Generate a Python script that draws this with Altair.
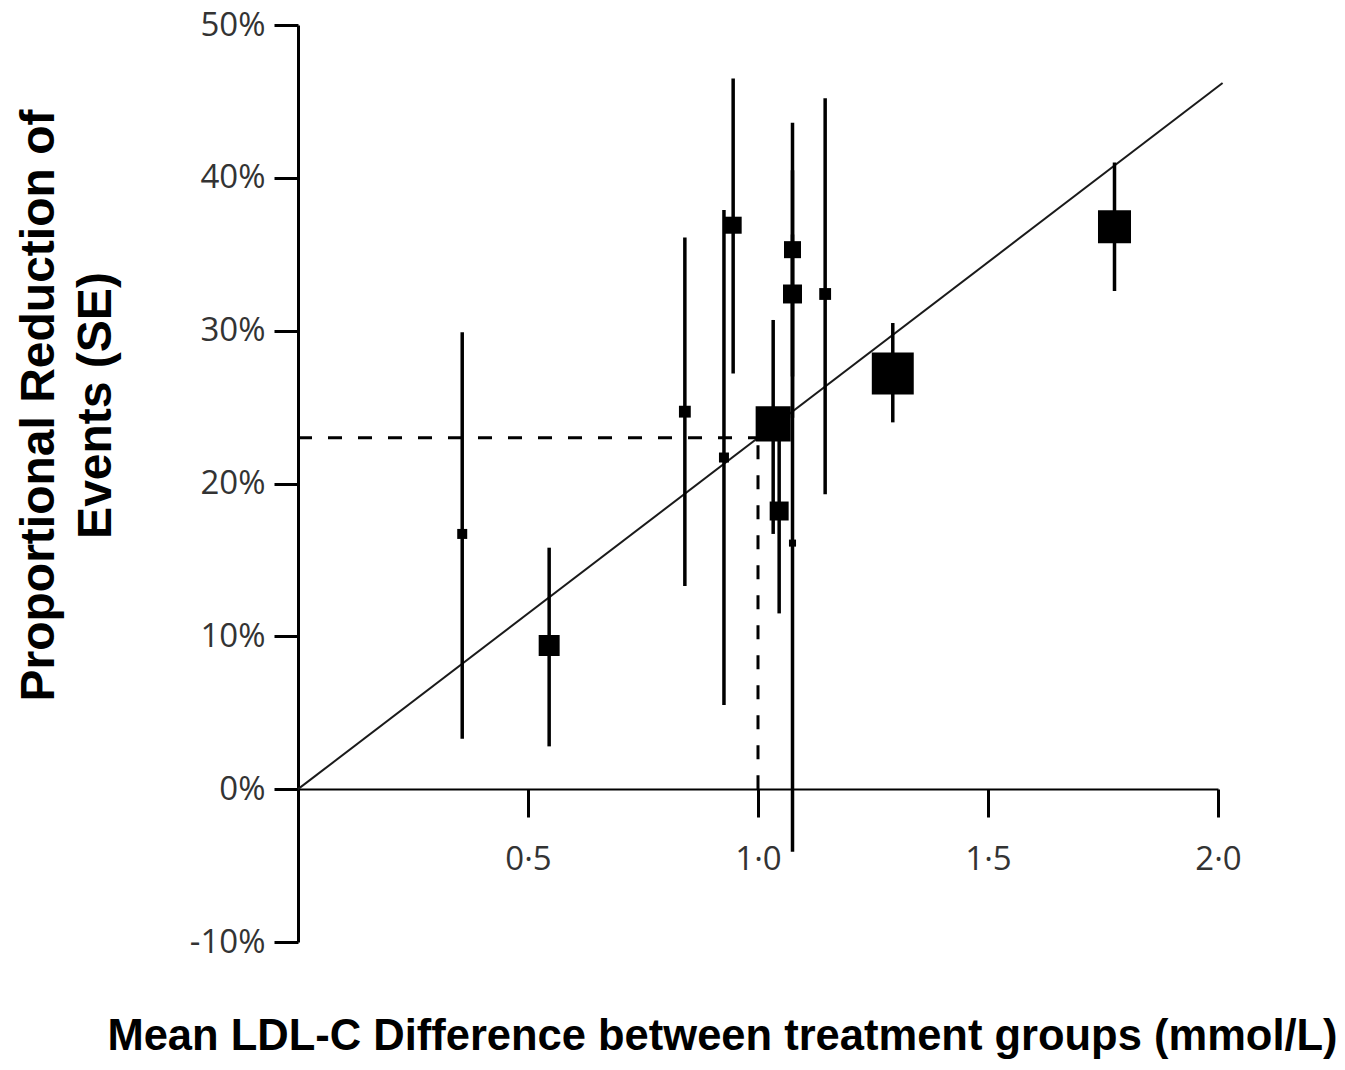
import altair as alt
import pandas as pd

# ---- data ----
ldl_diff = [0.357, 0.546, 0.841, 0.926, 0.946, 1.075, 1.075, 1.075, 1.033, 1.046, 1.146, 1.293, 1.775]
reduction = [16.7, 9.4, 24.7, 21.7, 36.9, 35.3, 32.4, 16.1, 23.9, 18.2, 32.4, 27.2, 36.8]
ci_upper = [29.9, 15.8, 36.1, 37.9, 46.5, 43.6, 40.5, 36.3, 30.7, 24.9, 45.2, 30.5, 41.0]
ci_lower = [3.3, 2.8, 13.3, 5.5, 27.2, 27.0, 24.3, -4.1, 16.7, 11.5, 19.3, 24.0, 32.6]
weight = [1.0, 4.4, 1.4, 1.0, 2.9, 2.9, 3.6, 0.5, 12.3, 3.6, 1.4, 17.6, 10.9]

fit_x = [0.0, 2.01]
fit_y = [0.0, 46.2]
ref_x = [1.0]
ref_y = [23.0]

x_ticks = [0.5, 1.0, 1.5, 2.0]
y_ticks = [-10, 0, 10, 20, 30, 40, 50]

pts = pd.DataFrame({"x": ldl_diff, "y": reduction, "hi": ci_upper, "lo": ci_lower, "w": weight})
fit = pd.DataFrame({"x": [fit_x[0]], "x2": [fit_x[1]], "y": [fit_y[0]], "y2": [fit_y[1]]})
ref_h = pd.DataFrame({"x": [0.0], "x2": ref_x, "y": ref_y})
ref_v = pd.DataFrame({"x": ref_x, "y": [0.0], "y2": ref_y})

xscale = alt.Scale(domain=[0, 2.0], nice=False, zero=False)
yscale = alt.Scale(domain=[-10, 50], nice=False, zero=False)

xaxis = alt.Axis(
    values=x_ticks,
    labelExpr="replace(format(datum.value, '.1f'), '.', '·')",
    offset=-153,
    grid=False,
    domainColor="black", domainWidth=2,
    tickColor="black", tickWidth=3, tickSize=28,
    labelFont="Open Sans", labelFontSize=33, labelColor="#333",
    labelPadding=26, labelFlush=False, labelOverlap=False,
    title="Mean LDL-C Difference between treatment groups (mmol/L)",
    titleFont="Liberation Sans", titleFontWeight="bold", titleFontSize=43.5,
    titleColor="black", titleX=424, titleY=260, titleAlign="center",
    titleBaseline="alphabetic",
)
yaxis = alt.Axis(
    values=y_ticks,
    labelExpr="datum.value + '%'",
    grid=False,
    domainColor="black", domainWidth=3,
    tickColor="black", tickWidth=3, tickSize=24,
    labelFont="Open Sans", labelFontSize=33, labelColor="#333",
    labelPadding=9, labelOverlap=False,
    title=["Proportional Reduction of", "Events (SE)"],
    titleFont="Liberation Sans", titleFontWeight="bold", titleFontSize=48,
    titleColor="black", titleAngle=270, titleX=-245, titleY=380,
    titleAlign="center", titleBaseline="alphabetic", titleLineHeight=57,
)


def X(field):
    return alt.X(f"{field}:Q", scale=xscale, axis=xaxis)


def Y(field):
    return alt.Y(f"{field}:Q", scale=yscale, axis=yaxis)


fit_layer = alt.Chart(fit).mark_rule(color="#1a1a1a", strokeWidth=2).encode(
    x=X("x"), x2="x2:Q", y=Y("y"), y2="y2:Q"
)
h_layer = alt.Chart(ref_h).mark_rule(color="black", strokeWidth=3, strokeDash=[14, 16]).encode(
    x=X("x"), x2="x2:Q", y=Y("y")
)
v_layer = alt.Chart(ref_v).mark_rule(color="black", strokeWidth=3, strokeDash=[14, 16]).encode(
    x=X("x"), y=Y("y"), y2="y2:Q"
)
err_layer = alt.Chart(pts).mark_rule(color="black", strokeWidth=3.5).encode(
    x=X("x"), y=Y("lo"), y2="hi:Q"
)
sq_layer = alt.Chart(pts).mark_square(filled=True, color="black", opacity=1, strokeWidth=0).encode(
    x=X("x"), y=Y("y"),
    size=alt.Size("w:Q", scale=alt.Scale(type="linear", domain=[0, 20], range=[0, 2000], zero=True), legend=None),
)

chart = (
    alt.layer(fit_layer, h_layer, v_layer, err_layer, sq_layer)
    .properties(
        width=920, height=917,
        autosize=alt.AutoSizeParams(type="none"),
        padding={"left": 290, "top": 17, "right": 118, "bottom": 120},
        background="white",
    )
    .configure_view(stroke=None)
)

chart.save("out.html", embed_options={"renderer": "svg", "actions": False})
